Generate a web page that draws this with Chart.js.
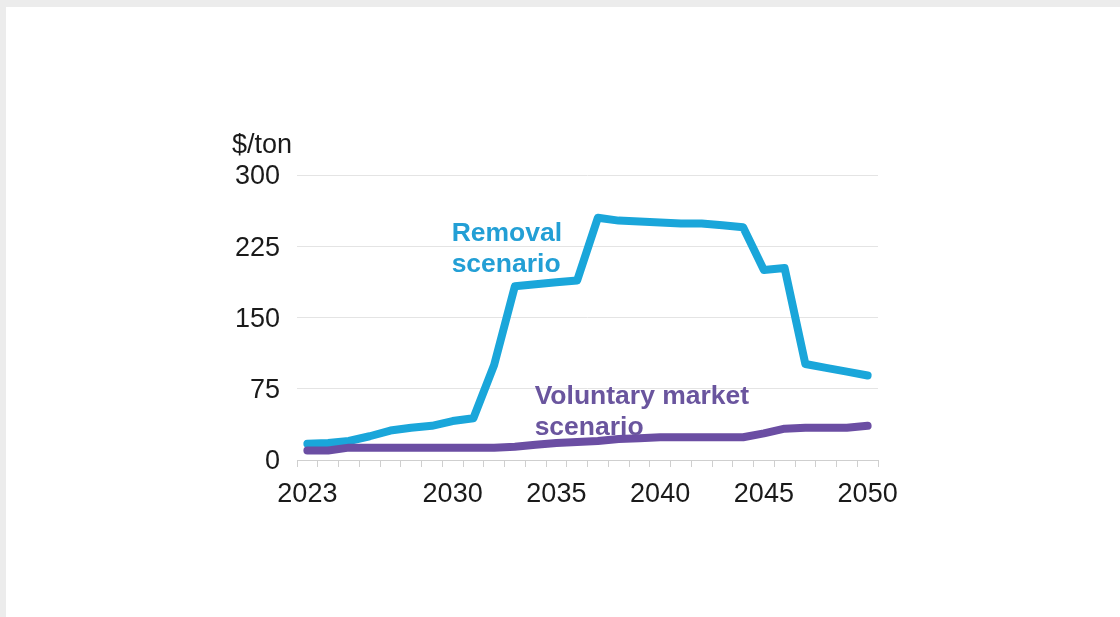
<!DOCTYPE html>
<html>
<head>
<meta charset="utf-8">
<script src="https://cdn.jsdelivr.net/npm/chart.js@4/dist/chart.umd.min.js"></script>
<style>
  html, body { margin: 0; padding: 0; background: #ececec; }
  #panel { position: absolute; left: 6px; top: 7px; right: 0; bottom: 0; background: #fff; }
  #Chart { position: absolute; left: 0; top: 0; }
</style>
</head>
<body>
<div id="panel"></div>
<canvas id="Chart" width="1120" height="617"></canvas>
<script>
// years on the x axis
var years = [2023, 2024, 2025, 2026, 2027, 2028, 2029, 2030, 2031, 2032, 2033, 2034, 2035, 2036,
             2037, 2038, 2039, 2040, 2041, 2042, 2043, 2044, 2045, 2046, 2047, 2048, 2049, 2050];
var shownYears = [2023, 2030, 2035, 2040, 2045, 2050];
var yTicks = [0, 75, 150, 225, 300];

// $/ton
var removal = [17, 18, 20, 25, 31, 34, 36, 41, 44, 100, 183, 185, 187, 189,
               255, 252, 251, 250, 249, 249, 247, 245, 200, 202, 101, 97, 93, 89];
var voluntary = [10, 10, 13, 13, 13, 13, 13, 13, 13, 13, 14, 16, 18, 19,
                 20, 22, 23, 24, 24, 24, 24, 24, 28, 33, 34, 34, 34, 36];

var labelNotes = [
    { lines: ["Removal", "scenario"], year: 2030, value: 238, color: "#239fd5" },
    { lines: ["Voluntary market", "scenario"], year: 2034, value: 67, color: "#6a559e" }
];

var blue = "#1aa6da";
var purple = "#6b4ea3";

var notesPlugin = {
    id: "notes",
    afterDatasetsDraw: function(chart) {
        var ctx = chart.ctx;
        var xs = chart.scales.x, ys = chart.scales.y;
        ctx.save();
        ctx.textBaseline = "middle";
        ctx.textAlign = "left";
        ctx.font = "bold 26.5px 'Liberation Sans', Arial, sans-serif";
        labelNotes.forEach(function(n) {
            var x = xs.getPixelForValue(years.indexOf(n.year)) - 1;
            var y = ys.getPixelForValue(n.value);
            ctx.fillStyle = n.color;
            n.lines.forEach(function(t, i) {
                ctx.fillText(t, x, y + i * 31);
            });
        });
        // unit label above the value axis
        ctx.font = "27px 'Liberation Sans', Arial, sans-serif";
        ctx.fillStyle = "#1a1a1a";
        ctx.fillText("$/ton", chart.chartArea.left - 65, ys.getPixelForValue(300) - 29);
        ctx.restore();
    }
};

var ctx = document.getElementById("Chart").getContext("2d");
var lineChart = new Chart(ctx, {
    type: "line",
    data: {
        labels: years,
        datasets: [{
            label: "Voluntary market scenario",
            data: voluntary,
            borderColor: purple,
            backgroundColor: purple,
            borderWidth: 8,
            pointRadius: 0,
            tension: 0,
            borderJoinStyle: "round",
            borderCapStyle: "round",
            fill: false
        }, {
            label: "Removal scenario",
            data: removal,
            borderColor: blue,
            backgroundColor: blue,
            borderWidth: 8,
            pointRadius: 0,
            tension: 0,
            borderJoinStyle: "round",
            borderCapStyle: "round",
            fill: false
        }]
    },
    options: {
        responsive: false,
        animation: false,
        layout: { padding: { left: 200, right: 242, top: 175, bottom: 0 } },
        plugins: {
            legend: { display: false },
            tooltip: { enabled: false }
        },
        scales: {
            x: {
                offset: true,
                afterFit: function(s) { s.height = 157; },
                grid: {
                    offset: true,
                    drawOnChartArea: false,
                    drawTicks: true,
                    tickLength: 7,
                    color: "#cfcfcf"
                },
                border: { display: true, color: "#cfcfcf" },
                ticks: {
                    autoSkip: false,
                    maxRotation: 0,
                    padding: 11,
                    color: "#1a1a1a",
                    font: { family: "'Liberation Sans', Arial, sans-serif", size: 27 },
                    callback: function(v, i) {
                        return shownYears.indexOf(years[i]) >= 0 ? String(years[i]) : "";
                    }
                }
            },
            y: {
                min: 0,
                max: 300,
                afterFit: function(s) { s.width = 97; },
                afterBuildTicks: function(s) {
                    s.ticks = yTicks.map(function(v) { return { value: v }; });
                },
                grid: { color: "#e4e4e4", drawTicks: false },
                border: { display: false },
                ticks: {
                    padding: 17,
                    labelOffset: 2,
                    color: "#1a1a1a",
                    font: { family: "'Liberation Sans', Arial, sans-serif", size: 27 }
                }
            }
        }
    },
    plugins: [notesPlugin]
});
</script>
</body>
</html>
